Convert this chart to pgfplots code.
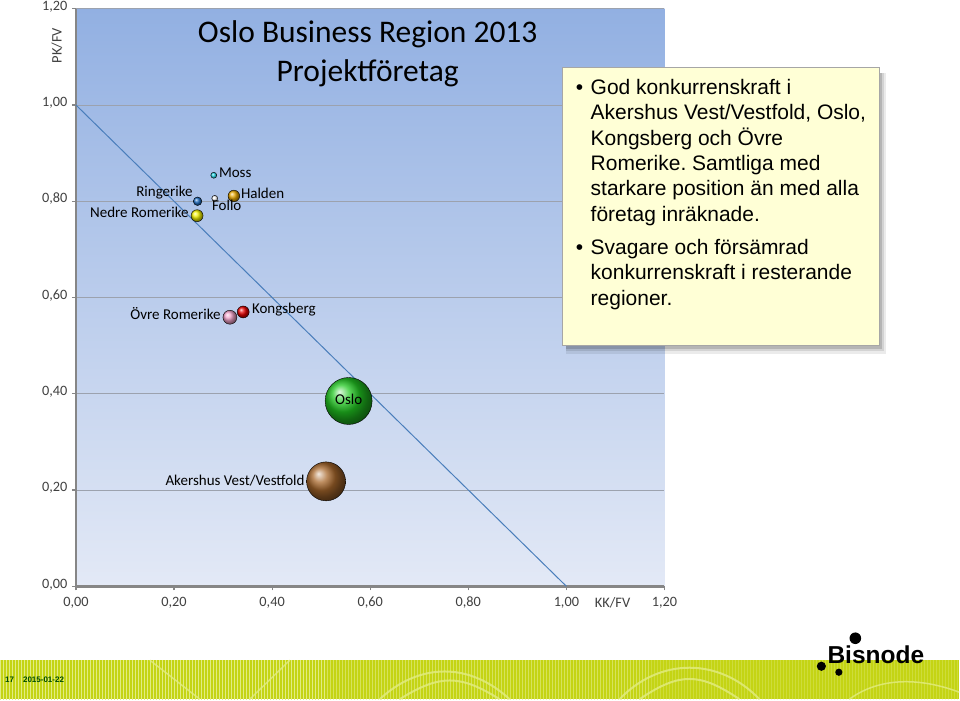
\documentclass[border=0pt]{standalone}
\usepackage{pgfplots}
\pgfplotsset{compat=1.18}
\usepackage{fontspec}
\setmainfont{Carlito}
\newfontfamily\arial{Liberation Sans}
\usetikzlibrary{shadows,patterns}
\definecolor{bgtop}{HTML}{92B0E2}
\definecolor{bgbot}{HTML}{E3E9F6}
\definecolor{axgray}{HTML}{868686}
\definecolor{gridgray}{HTML}{9CA2AE}
\definecolor{diag}{HTML}{4A7EBB}
\definecolor{boxfill}{HTML}{FFFFD6}
\definecolor{footer}{HTML}{C4D414}
\definecolor{footlight}{HTML}{E2EC82}
\definecolor{labgray}{HTML}{404040}
\definecolor{cMoss}{HTML}{20D8E8}
\definecolor{cRinge}{HTML}{1E6CC0}
\definecolor{cFollo}{HTML}{FFFFFF}
\definecolor{cHalden}{HTML}{E8A800}
\definecolor{cNedre}{HTML}{F4F400}
\definecolor{cOvre}{HTML}{F0A0C8}
\definecolor{cKong}{HTML}{E80000}
\definecolor{cOslo}{HTML}{22C822}
\definecolor{cAker}{HTML}{A8682C}
\frenchspacing
\begin{document}
\begin{tikzpicture}
\begin{scope}[shift={(-76pt,584pt)},x=1pt,y=-1pt]
\path[use as bounding box] (0,0) rectangle (960,697);
\end{scope}
\begin{axis}[
  at={(0,0)}, anchor=south west,
  scale only axis, width=589pt, height=578pt,
  xmin=0, xmax=1.2, ymin=0, ymax=1.2,
  xtick={0,0.2,0.4,0.6,0.8,1.0,1.2},
  ytick={0,0.2,0.4,0.6,0.8,1.0,1.2},
  axis x line*=bottom, axis y line*=left,
  axis line style={axgray, line width=2.5pt},
  ymajorgrids, grid style={gridgray, line width=0.8pt},
  tick style={axgray, line width=1.2pt}, major tick length=4pt, tick align=outside,
  ticklabel style={font=\fontsize{14.3}{16}\selectfont, text=labgray, text height=1.5ex, text depth=0.35ex},
  xticklabel style={yshift=-6pt},
  yticklabel style={xshift=-1pt, yshift=1pt},
  /pgf/number format/.cd, fixed, fixed zerofill, precision=2, use comma, assume math mode=true,
  /pgfplots/.cd,
  axis background/.style={top color=bgtop, bottom color=bgbot},
  clip=false,
]
\addplot[diag, line width=1pt] coordinates {(0,1) (1,0)};
\addplot[only marks, mark=ball, mark size=3pt, mark options={ball color=cMoss}] coordinates {(0.281,0.854)};
\addplot[only marks, mark=ball, mark size=4.3pt, mark options={ball color=cRinge}] coordinates {(0.248,0.800)};
\addplot[only marks, mark=ball, mark size=3pt, mark options={ball color=cFollo}] coordinates {(0.283,0.806)};
\addplot[only marks, mark=ball, mark size=5.8pt, mark options={ball color=cHalden}] coordinates {(0.322,0.811)};
\addplot[only marks, mark=ball, mark size=6pt, mark options={ball color=cNedre}] coordinates {(0.247,0.770)};
\addplot[only marks, mark=ball, mark size=7pt, mark options={ball color=cOvre}] coordinates {(0.314,0.559)};
\addplot[only marks, mark=ball, mark size=6pt, mark options={ball color=cKong}] coordinates {(0.341,0.570)};
\addplot[only marks, mark=ball, mark size=23.5pt, mark options={ball color=cOslo}] coordinates {(0.556,0.385)};
\addplot[only marks, mark=ball, mark size=19.5pt, mark options={ball color=cAker}] coordinates {(0.510,0.218)};
\end{axis}
\begin{scope}[shift={(-76pt,584pt)},x=1pt,y=-1pt]
% title
\node[font=\fontsize{31.5}{38}\selectfont, text=black] at (368,32) {Oslo Business Region 2013};
\node[font=\fontsize{31.5}{38}\selectfont, text=black] at (368,71) {Projektföretag};
% axis labels
\node[font=\fontsize{14.5}{17}\selectfont, text=labgray, rotate=90] at (57,43) {PK/FV};
\node[font=\fontsize{14.5}{17}\selectfont, text=labgray] at (613,601) {KK/FV};
% bubble labels
\tikzset{bl/.style={font=\fontsize{15}{17}\selectfont, text=black, inner sep=0pt, text height=1.45ex, text depth=0.3ex}}
\node[bl, anchor=west] at (219,172) {Moss};
\node[bl, anchor=east] at (193,191) {Ringerike};
\node[bl, anchor=west] at (212,205) {Follo};
\node[bl, anchor=west] at (241,193) {Halden};
\node[bl, anchor=east] at (189,212) {Nedre Romerike};
\node[bl, anchor=east] at (221,314) {Övre Romerike};
\node[bl, anchor=west] at (252,308) {Kongsberg};
\node[bl, anchor=center] at (349,399) {Oslo};
\node[bl, anchor=east] at (305,480) {Akershus Vest/Vestfold};
% text box
\fill[black, opacity=0.08] (566,70) rectangle (887,352);
\fill[black, opacity=0.10] (566,70) rectangle (885,349);
\fill[black, opacity=0.14] (566,70) rectangle (883,347);
\fill[boxfill, draw=gray!70, line width=0.8pt] (563,65) rectangle (880,343);
\tikzset{bt/.style={font=\arial\fontsize{21}{25}\selectfont, text=black, inner sep=0pt, anchor=base west}}
\node[bt] at (576,92) {•};
\node[bt] at (591,92) {God konkurrenskraft i};
\node[bt] at (591,117.3) {Akershus Vest/Vestfold, Oslo,};
\node[bt] at (591,142.6) {Kongsberg och Övre};
\node[bt] at (591,167.9) {Romerike. Samtliga med};
\node[bt] at (591,193.2) {starkare position än med alla};
\node[bt] at (591,218.5) {företag inräknade.};
\node[bt] at (576,252) {•};
\node[bt] at (591,252) {Svagare och försämrad};
\node[bt] at (591,277.3) {konkurrenskraft i resterande};
\node[bt] at (591,302.6) {regioner.};
% footer
\fill[footer] (0,658) rectangle (960,697);
\fill[pattern=vertical lines, pattern color=footlight] (0,658) rectangle (960,697);
\draw[footlight, line width=2pt, opacity=0.8] (380,697) .. controls (420,660) and (470,660) .. (510,697);
\draw[footlight, line width=2pt, opacity=0.8] (400,697) .. controls (440,672) and (460,672) .. (500,697);
\draw[footlight, line width=2pt, opacity=0.8] (620,697) .. controls (660,655) and (720,655) .. (760,697);
\draw[footlight, line width=2pt, opacity=0.8] (640,697) .. controls (680,670) and (700,670) .. (740,697);
\draw[footlight, line width=1.5pt, opacity=0.8] (150,658) -- (200,697);
\draw[footlight, line width=1.5pt, opacity=0.8] (250,697) -- (290,658);
\draw[footlight, line width=1.5pt, opacity=0.8] (850,697) .. controls (880,675) and (920,675) .. (960,690);
\node[font=\arial\bfseries\fontsize{8}{9}\selectfont, text=green!30!black, anchor=west, inner sep=0pt] at (5,678) {17\hspace{9pt}2015-01-22};
% logo
\node[font=\arial\bfseries\fontsize{24.5}{28}\selectfont, text=black, anchor=base west, inner sep=0pt] at (828,661) {Bisnode};
\fill[black] (856,636) circle (5.8);
\fill[black] (822,664) circle (4.6);
\fill[black] (839.5,670) circle (3.6);
\end{scope}
\end{tikzpicture}
\end{document}
